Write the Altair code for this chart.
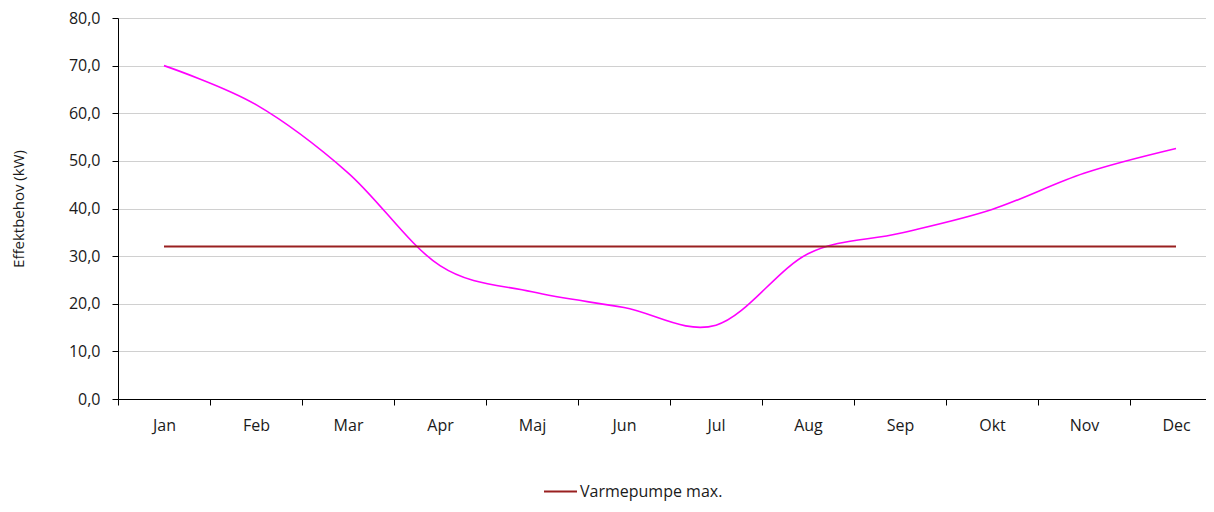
import altair as alt
import pandas as pd

months = ["Jan", "Feb", "Mar", "Apr", "Maj", "Jun", "Jul", "Aug", "Sep", "Okt", "Nov", "Dec"]
effekt = [70.0, 61.8, 47.5, 28.0, 22.5, 19.2, 15.5, 30.5, 34.8, 39.8, 47.4, 52.6]
varmepumpe = [32.0] * 12
serie_navn = "Varmepumpe max."

df = pd.DataFrame({"month": months, "effekt": effekt, "vp": varmepumpe, "serie": [serie_navn] * 12})

FONT = "Open Sans"
TXT = "#1a1a1a"

xenc = alt.X(
    "month:N",
    sort=months,
    bandPosition=0.5,
    scale=alt.Scale(type="band", paddingInner=0, paddingOuter=0, range=[0, 1104]),
    axis=alt.Axis(
        title=None, tickBand="extent", labelAngle=0, tickSize=6, labelPadding=12,
        domainColor="#000000", tickColor="#000000", labelFontSize=16, labelColor=TXT,
        labelFont=FONT, grid=False,
    ),
)

yaxis = alt.Axis(
    title="Effektbehov (kW)", values=list(range(0, 81, 10)),
    labelExpr="replace(format(datum.value, '.1f'), '.', ',')",
    tickSize=6, labelPadding=12, domainColor="#000000", tickColor="#000000",
    gridColor="#d0d0d0", labelFontSize=16, labelColor=TXT, labelFont=FONT,
    titleFont=FONT, titleFontSize=15, titleFontWeight="normal", titleColor=TXT,
    titlePadding=42,
)
yscale = alt.Scale(domain=[0, 80], nice=False)

line_eff = alt.Chart(df).mark_line(color="#FF00FF", strokeWidth=1.6, interpolate="cardinal").encode(
    x=xenc,
    y=alt.Y("effekt:Q", scale=yscale, axis=yaxis),
)

line_vp = alt.Chart(df).mark_line(strokeWidth=2).encode(
    x=xenc,
    y=alt.Y("vp:Q", scale=yscale, axis=yaxis),
    color=alt.Color(
        "serie:N",
        scale=alt.Scale(domain=[serie_navn], range=["#992020"]),
        legend=alt.Legend(
            title=None, orient="none", legendX=425, legendY=456,
            symbolType="stroke", symbolSize=1089, symbolStrokeWidth=2,
            labelFontSize=16, labelFont=FONT, labelColor=TXT, labelOffset=2,
        ),
    ),
)

chart = alt.layer(line_eff, line_vp).properties(
    width=1088, height=381,
    autosize=alt.AutoSizeParams(type="none"),
    padding={"left": 110, "top": 10, "right": 0, "bottom": 104},
).configure_view(stroke=None).configure(font=FONT)

chart.save("out.html", embed_options={"renderer": "svg", "actions": False})
